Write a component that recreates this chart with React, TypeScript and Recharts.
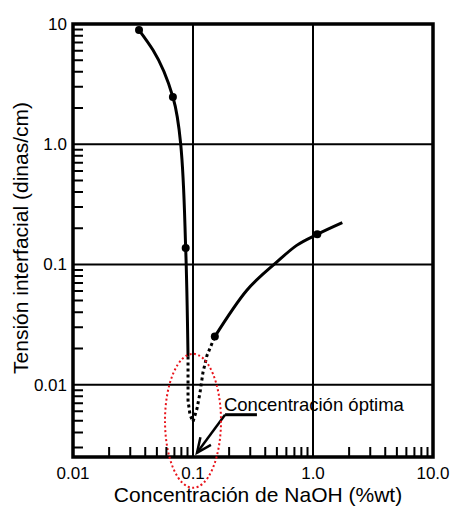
import { ComposedChart, Line, XAxis, YAxis, ReferenceLine, ReferenceArea, ReferenceDot, Label } from 'recharts';

// ejes (escala log-log)
const xMin = 0.01;
const xMax = 10;
const yMin = 0.0025;
const yMax = 10;
const xMajor = [0.01, 0.1, 1, 10];
const xMajorLabels = ['0.01', '0.1', '1.0', '10.0'];
const xMinor = [0.02, 0.03, 0.04, 0.05, 0.06, 0.07, 0.08, 0.09, 0.2, 0.3, 0.4, 0.5, 0.6, 0.7, 0.8, 0.9, 2, 3, 4, 5, 6, 7, 8, 9];
const yMajor = [0.01, 0.1, 1, 10];
const yMajorLabels = ['0.01', '0.1', '1.0', '10'];
const yMinor = [0.003, 0.004, 0.005, 0.006, 0.007, 0.008, 0.009, 0.02, 0.03, 0.04, 0.05, 0.06, 0.07, 0.08, 0.09, 0.2, 0.3, 0.4, 0.5, 0.6, 0.7, 0.8, 0.9, 2, 3, 4, 5, 6, 7, 8, 9];
const xGrid = [0.1, 1];
const yGrid = [0.01, 0.1, 1];

// curva izquierda (solida)
const leftX = [0.0355, 0.0464, 0.068, 0.079, 0.0869, 0.0909];
const leftY = [8.9, 6.07, 2.47, 1.0, 0.137, 0.0171];
// tramo punteado alrededor del minimo
const dotX = [0.0909, 0.0909, 0.0944, 0.1, 0.108, 0.1144, 0.121, 0.1308, 0.152];
const dotY = [0.0171, 0.00736, 0.00562, 0.00492, 0.00631, 0.00858, 0.0126, 0.0175, 0.0251];
// curva derecha (solida)
const rightX = [0.152, 0.28, 0.498, 0.731, 1.086, 1.755];
const rightY = [0.0251, 0.0607, 0.1045, 0.144, 0.178, 0.2226];
// puntos medidos
const markX = [0.0355, 0.068, 0.0869, 0.152, 1.086];
const markY = [8.9, 2.47, 0.137, 0.0251, 0.178];

// anotacion
const optimoX = 0.1;
const optimoY = 0.005;
const noteTextPos = { x: 0.181, y: 0.00607 };
const arrowPts = [
  { x: 0.341, y: 0.00562 },
  { x: 0.185, y: 0.00562 },
  { x: 0.108, y: 0.00271 },
];

const zip = (xs: number[], ys: number[]) => xs.map((x, i) => ({ x, y: ys[i] }));
const leftData = zip(leftX, leftY);
const dotData = zip(dotX, dotY);
const rightData = zip(rightX, rightY);
const markData = zip(markX, markY);

// tamaño del grafico
const W = 453;
const H = 507;
const M = { top: 24, right: 20, left: 0, bottom: 0 };
const Y_AXIS_W = 73;
const X_AXIS_H = 50;

const FONT = '"Liberation Sans", Arial, Helvetica, sans-serif';

const XTick = (props: any) => {
  const { x, y, payload } = props;
  const i = xMajor.indexOf(payload.value);
  if (i < 0) return null;
  return (
    <text x={x} y={y + 22} textAnchor="middle" fontSize={17} fontFamily={FONT} fill="#000">
      {xMajorLabels[i]}
    </text>
  );
};

const YTick = (props: any) => {
  const { x, y, payload } = props;
  const i = yMajor.indexOf(payload.value);
  if (i < 0) return null;
  return (
    <text x={x - 6} y={y + 6} textAnchor="end" fontSize={17} fontFamily={FONT} fill="#000">
      {yMajorLabels[i]}
    </text>
  );
};

const ArrowHead = (props: any) => {
  const { cx, cy } = props;
  // direccion hacia atras del trazo diagonal
  const ang = Math.atan2(-38, 28);
  const len = 16;
  const spread = 0.42;
  const p1 = [cx + len * Math.cos(ang - spread), cy + len * Math.sin(ang - spread)];
  const p2 = [cx + len * Math.cos(ang + spread), cy + len * Math.sin(ang + spread)];
  return (
    <path
      d={`M${p1[0]},${p1[1]} L${cx},${cy} L${p2[0]},${p2[1]}`}
      fill="none"
      stroke="#000"
      strokeWidth={2.5}
    />
  );
};

// marcas menores hacia dentro del marco (misma escala log que los ejes)
const MinorTicks = () => {
  const px = M.left + Y_AXIS_W;
  const py = M.top;
  const pw = W - M.left - M.right - Y_AXIS_W;
  const ph = H - M.top - M.bottom - X_AXIS_H;
  const sx = (v: number) => px + (pw * (Math.log10(v) - Math.log10(xMin))) / (Math.log10(xMax) - Math.log10(xMin));
  const sy = (v: number) => py + ph - (ph * (Math.log10(v) - Math.log10(yMin))) / (Math.log10(yMax) - Math.log10(yMin));
  const d =
    xMinor.map((v) => `M${sx(v)},${py + ph} V${py + ph - 10}`).join(' ') +
    ' ' +
    yMinor.map((v) => `M${px},${sy(v)} H${px + 10}`).join(' ');
  return (
    <svg width={W} height={H} style={{ position: 'absolute', left: 0, top: 0, pointerEvents: 'none' }}>
      <path d={d} stroke="#000" strokeWidth={2} fill="none" />
    </svg>
  );
};

export default function App() {
  return (
    <div style={{ position: 'absolute', left: 0, top: 0, width: W, height: H }}>
      <ComposedChart width={W} height={H} margin={M}>
        <XAxis
          dataKey="x"
          type="number"
          scale="log"
          domain={[xMin, xMax]}
          allowDataOverflow
          ticks={xMajor}
          interval={0}
          height={X_AXIS_H}
          axisLine={false}
          tickLine={false}
          tickSize={0}
          tickMargin={0}
          tick={<XTick />}
        >
          <Label
            content={(p: any) => (
              <text
                x={p.viewBox.x + p.viewBox.width / 2 + 5}
                y={p.viewBox.y + 45}
                textAnchor="middle"
                fontSize={21}
                fontFamily={FONT}
                fill="#000"
              >
                Concentración de NaOH (%wt)
              </text>
            )}
          />
        </XAxis>
        <YAxis
          dataKey="y"
          type="number"
          scale="log"
          domain={[yMin, yMax]}
          allowDataOverflow
          ticks={yMajor}
          interval={0}
          width={Y_AXIS_W}
          axisLine={false}
          tickLine={false}
          tickSize={0}
          tickMargin={0}
          tick={<YTick />}
        >
          <Label
            content={() => (
              <text
                x={28}
                y={238}
                transform="rotate(-90 28 238)"
                textAnchor="middle"
                fontSize={21}
                fontFamily={FONT}
                fill="#000"
              >
                Tensión interfacial (dinas/cm)
              </text>
            )}
          />
        </YAxis>

        {xGrid.map((v) => (
          <ReferenceLine key={'gx' + v} x={v} stroke="#000" strokeWidth={2} />
        ))}
        {yGrid.map((v) => (
          <ReferenceLine key={'gy' + v} y={v} stroke="#000" strokeWidth={2} />
        ))}
        <ReferenceArea x1={xMin} x2={xMax} y1={yMin} y2={yMax} fill="none" stroke="#000" strokeWidth={3.5} />

        <Line data={leftData} dataKey="y" type="monotoneY" stroke="#000" strokeWidth={3} dot={false} isAnimationActive={false} />
        <Line data={dotData} dataKey="y" type="linear" stroke="#000" strokeWidth={3} strokeDasharray="3 3" dot={false} isAnimationActive={false} />
        <Line data={rightData} dataKey="y" type="monotone" stroke="#000" strokeWidth={3} dot={false} isAnimationActive={false} />
        <Line data={markData} dataKey="y" stroke="none" dot={{ r: 4, fill: '#000', strokeWidth: 0 }} isAnimationActive={false} />

        <ReferenceDot
          x={optimoX}
          y={optimoY}
          ifOverflow="visible"
          shape={(p: any) => (
            <ellipse cx={p.cx} cy={p.cy} rx={28} ry={67} fill="none" stroke="#e8141b" strokeWidth={2} strokeDasharray="2 2.5" />
          )}
        />
        <ReferenceLine segment={[arrowPts[0], arrowPts[1]]} stroke="#000" strokeWidth={3} />
        <ReferenceLine segment={[arrowPts[1], arrowPts[2]]} stroke="#000" strokeWidth={2.5} />
        <ReferenceDot x={arrowPts[2].x} y={arrowPts[2].y} ifOverflow="visible" shape={<ArrowHead />} />
        <ReferenceDot
          x={noteTextPos.x}
          y={noteTextPos.y}
          ifOverflow="visible"
          shape={(p: any) => (
            <text x={p.cx} y={p.cy} fontSize={18.5} fontFamily={FONT} fill="#000">
              Concentración óptima
            </text>
          )}
        />
      </ComposedChart>
      <MinorTicks />
    </div>
  );
}
